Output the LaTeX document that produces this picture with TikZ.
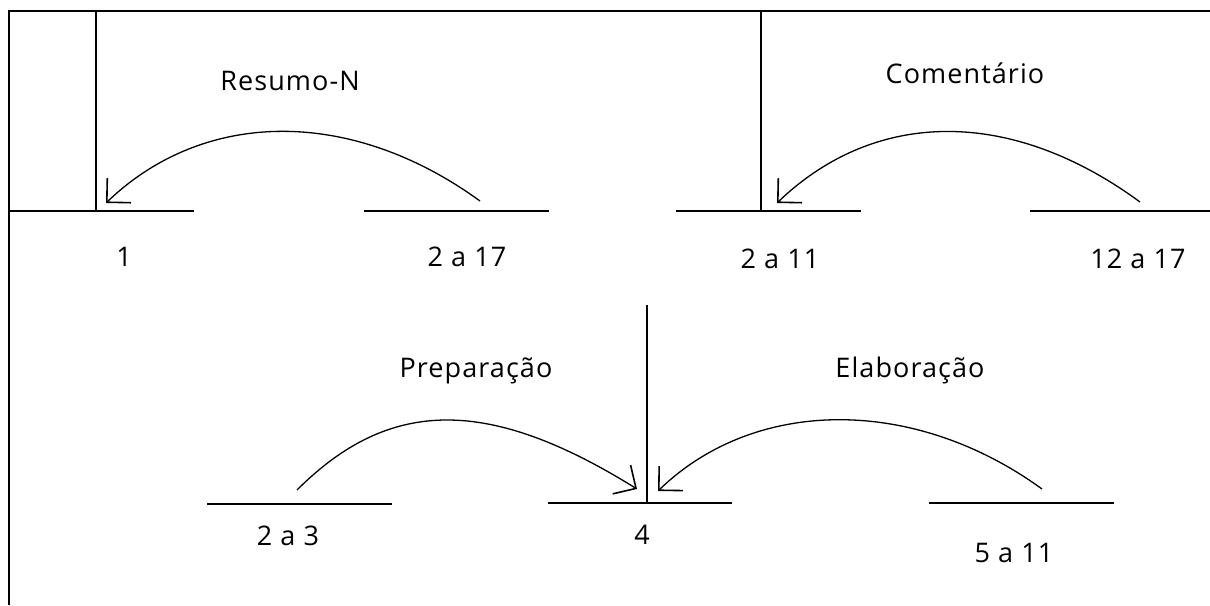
\documentclass[tikz,border=0pt]{standalone}
\usepackage{fontspec}
\setmainfont[LetterSpace=4]{Open Sans}
\usetikzlibrary{arrows.meta}
\begin{document}
\begin{tikzpicture}[x=1pt,y=-1pt,
  seg/.style={line width=1.6pt},
  rel/.style={line width=1.3pt, -{Straight Barb[angle=90:24pt, line width=1.6pt]}},
  lbl/.style={anchor=base, inner sep=0pt, font=\fontsize{27}{31}\selectfont}]
\useasboundingbox (0,0) rectangle (1210,605);
% frame
\coordinate (TL) at (9,11);
\coordinate (TR) at (1210,11);
\coordinate (BL) at (9,605);
\draw[seg] (TR) -- (TL) -- (BL);
% vertical lines
\coordinate (v1t) at (96,11);   \coordinate (v1b) at (96,211);
\coordinate (v2t) at (761,11);  \coordinate (v2b) at (761,211);
\coordinate (v3t) at (647,305); \coordinate (v3b) at (647,503);
\draw[seg] (v1t) -- (v1b);
\draw[seg] (v2t) -- (v2b);
\draw[seg] (v3t) -- (v3b);
% segments
\coordinate (s1a) at (9,211);    \coordinate (s1b) at (194,211);
\coordinate (s2a) at (364,211);  \coordinate (s2b) at (549,211);
\coordinate (s3a) at (676,211);  \coordinate (s3b) at (861,211);
\coordinate (s4a) at (1030,211); \coordinate (s4b) at (1210,211);
\coordinate (s5a) at (207,504);  \coordinate (s5b) at (392,504);
\coordinate (s6a) at (548,503);  \coordinate (s6b) at (732,503);
\coordinate (s7a) at (929,503);  \coordinate (s7b) at (1114,503);
\draw[seg] (s1a) -- (s1b);
\draw[seg] (s2a) -- (s2b);
\draw[seg] (s3a) -- (s3b);
\draw[seg] (s4a) -- (s4b);
\draw[seg] (s5a) -- (s5b);
\draw[seg] (s6a) -- (s6b);
\draw[seg] (s7a) -- (s7b);
% arc end points
\coordinate (r1s) at (480,201);  \coordinate (r1e) at (106,203);
\coordinate (r2s) at (1140,202); \coordinate (r2e) at (777,203);
\coordinate (r3s) at (297,490);  \coordinate (r3e) at (637,489);
\coordinate (r4s) at (1042,489); \coordinate (r4e) at (658,491);
\draw[rel] (r1s) .. controls (352,108) and (205,108) .. (r1e);
\draw[rel] (r2s) .. controls (1012,108) and (876,108) .. (r2e);
\draw[rel] (r3s) .. controls (390,397) and (489,397) .. (r3e);
\draw[rel] (r4s) .. controls (914,396) and (755,397) .. (r4e);
% labels
\node[lbl] (resumo) at (290,90) {Resumo-N};
\node[lbl] (coment) at (965,83) {Comentário};
\node[lbl] (prep) at (476,377) {Preparação};
\node[lbl] (elab) at (910,377) {Elaboração};
\node[lbl] (l1) at (124,266) {1};
\node[lbl] (l217) at (467,266) {2 a 17};
\node[lbl] (l211) at (780,268) {2 a 11};
\node[lbl] (l1217) at (1138,268) {12 a 17};
\node[lbl] (l23) at (288,545) {2 a 3};
\node[lbl] (l4) at (642,544) {4};
\node[lbl] (l511) at (1014,562) {5 a 11};
\end{tikzpicture}
\end{document}
